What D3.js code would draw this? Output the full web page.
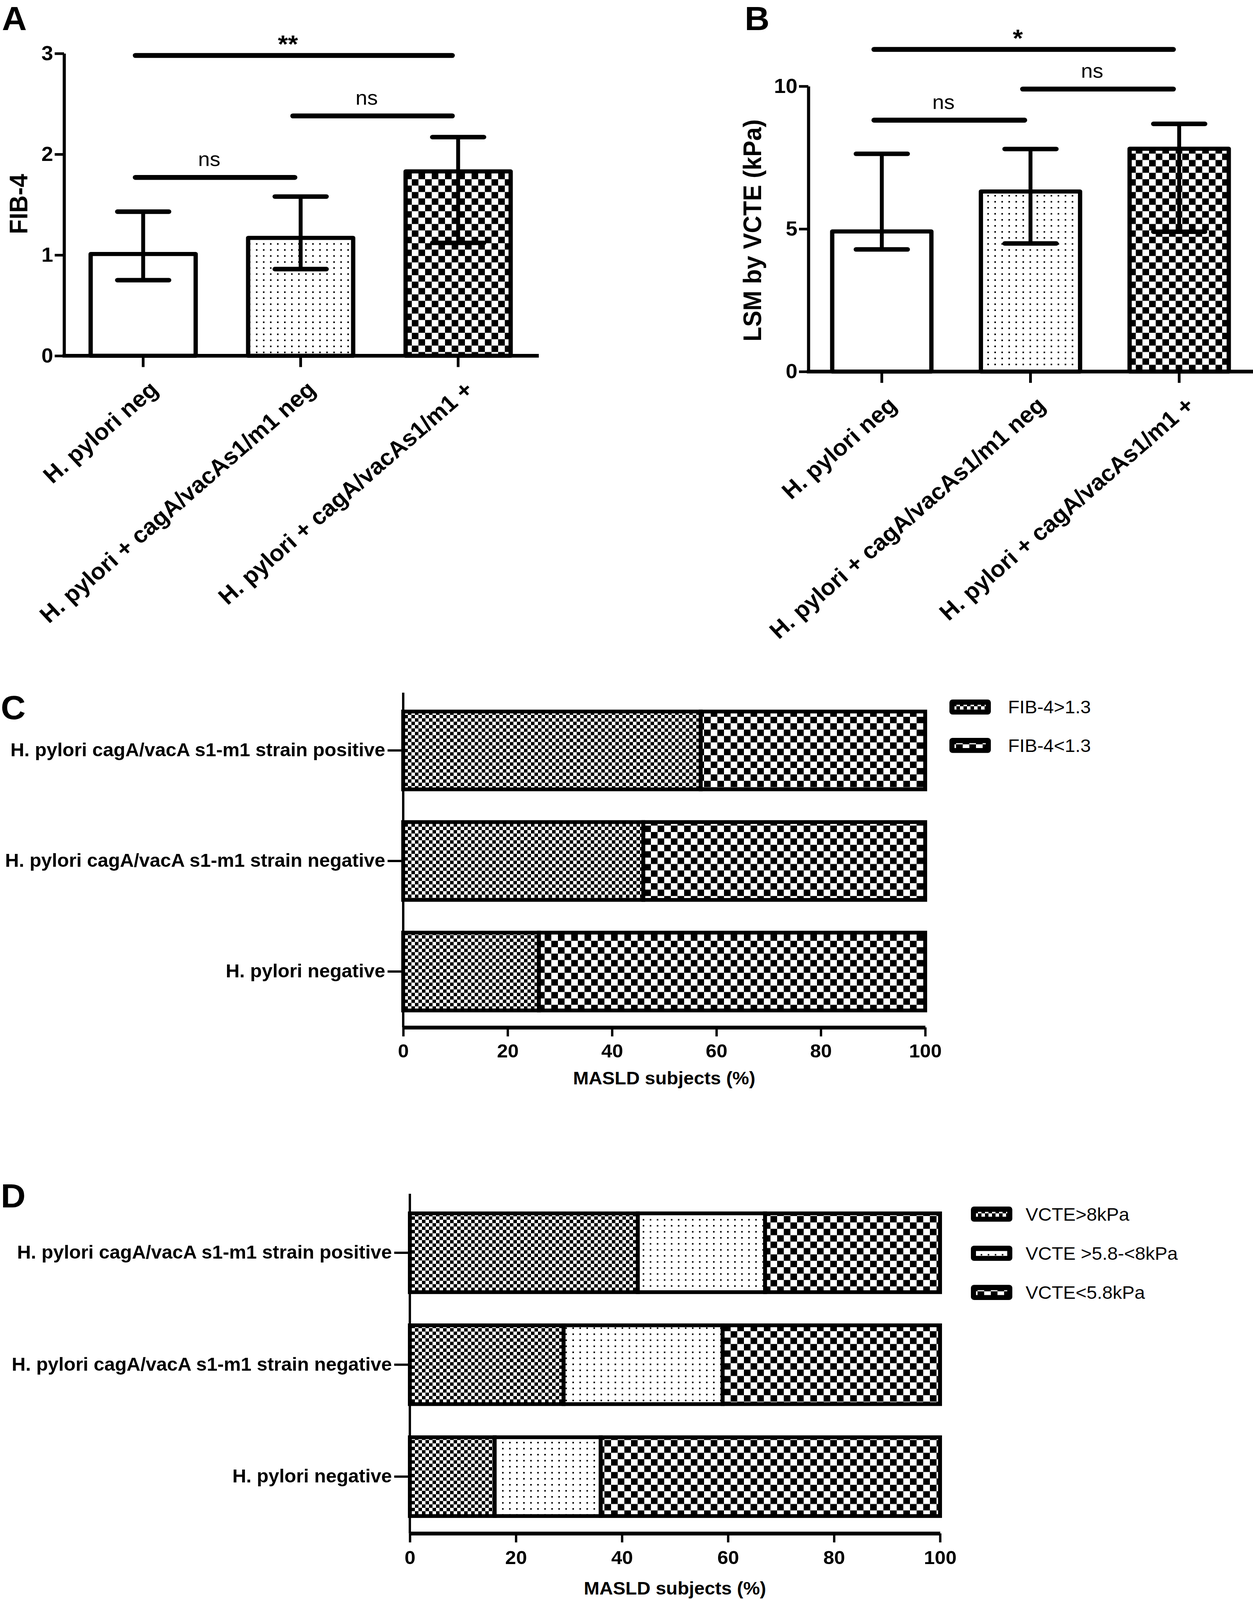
<!DOCTYPE html>
<html>
<head>
<meta charset="utf-8">
<script src="https://cdn.jsdelivr.net/npm/d3@7"></script>
<style>
html, body { margin: 0; padding: 0; background: #fff; width: 100%; height: 100%; overflow: hidden; }
svg { display: block; width: 100vw; height: 100vh; font-family: "Liberation Sans", Arial, Helvetica, sans-serif; }
</style>
</head>
<body>
<svg id="chart" viewBox="0 0 3207 4250" preserveAspectRatio="none"></svg>
<script>
// ---- data ----
const groupsAB = ["H. pylori neg", "H. pylori + cagA/vacAs1/m1 neg", "H. pylori + cagA/vacAs1/m1 +"];

const fib4Median = [1.01, 1.17, 1.83];
const fib4Low    = [0.75, 0.86, 1.12];
const fib4High   = [1.43, 1.58, 2.17];
const fib4Ticks  = [0, 1, 2, 3];
const fib4Comparisons = [
    { from: 0, to: 2, y: 2.98, label: "**" },
    { from: 1, to: 2, y: 2.38, label: "ns" },
    { from: 0, to: 1, y: 1.77, label: "ns" }
];

const lsmMedian = [4.91, 6.31, 7.81];
const lsmLow    = [4.28, 4.49, 4.90];
const lsmHigh   = [7.63, 7.80, 8.68];
const lsmTicks  = [0, 5, 10];
const lsmComparisons = [
    { from: 0, to: 2, y: 11.29, label: "*" },
    { from: 1, to: 2, y: 9.9,  label: "ns" },
    { from: 0, to: 1, y: 8.81, label: "ns" }
];

const groupsCD = [
    "H. pylori cagA/vacA s1-m1 strain positive",
    "H. pylori cagA/vacA s1-m1 strain negative",
    "H. pylori negative"
];
const fibAbove = [57, 46, 26];   // FIB-4>1.3
const fibBelow = [43, 54, 74];   // FIB-4<1.3
const fibLegend = ["FIB-4>1.3", "FIB-4<1.3"];

const vcteHigh = [43, 29, 16];   // VCTE>8kPa
const vcteMid  = [24, 30, 20];   // VCTE >5.8-<8kPa
const vcteLow  = [33, 41, 64];   // VCTE<5.8kPa
const vcteLegend = ["VCTE>8kPa", "VCTE >5.8-<8kPa", "VCTE<5.8kPa"];

const pctTicks = [0, 20, 40, 60, 80, 100];

// ---- patterns ----
const svg = d3.select("#chart");
const defs = svg.append("defs");

function checker(id, size) {
    const p = defs.append("pattern")
        .attr("id", id)
        .attr("patternUnits", "userSpaceOnUse")
        .attr("width", size * 2)
        .attr("height", size * 2);
    p.append("rect").attr("width", size * 2).attr("height", size * 2).attr("fill", "#fff");
    p.append("rect").attr("width", size).attr("height", size).attr("fill", "#000");
    p.append("rect").attr("x", size).attr("y", size).attr("width", size).attr("height", size).attr("fill", "#000");
}
checker("checkBig", 17);
checker("checkFine", 9);

const dots = defs.append("pattern")
    .attr("id", "dots")
    .attr("patternUnits", "userSpaceOnUse")
    .attr("width", 18)
    .attr("height", 16);
dots.append("rect").attr("width", 18).attr("height", 16).attr("fill", "#fff");
dots.append("rect").attr("x", 7).attr("y", 6).attr("width", 4).attr("height", 4).attr("fill", "#000");

const barFills = ["#fff", "url(#dots)", "url(#checkBig)"];

function panelLetter(txt, x, y) {
    svg.append("text")
        .attr("x", x).attr("y", y)
        .attr("font-size", 88)
        .attr("font-weight", "bold")
        .text(txt);
}

// ---- vertical bar panels (A, B) ----
function drawBarPanel(o) {
    const g = svg.append("g");
    const x = d3.scaleBand().domain(groupsAB).range(o.bandRange).paddingInner(0.333);
    const y = d3.scaleLinear().domain([0, o.yMax]).range([o.base, o.top]);
    const cx = i => x(groupsAB[i]) + x.bandwidth() / 2;

    // y axis
    const ya = g.append("g")
        .attr("transform", `translate(${o.axisX},0)`)
        .call(d3.axisLeft(y).tickValues(o.ticks).tickFormat(d3.format("d"))
            .tickSize(24).tickPadding(4).tickSizeOuter(0));
    ya.select(".domain").attr("stroke", "#000").attr("stroke-width", 8);
    ya.selectAll(".tick line").attr("stroke", "#000").attr("stroke-width", 7);
    ya.selectAll(".tick text")
        .attr("font-size", 54).attr("font-weight", "bold")
        .attr("font-family", "Liberation Sans, Arial, sans-serif").attr("fill", "#000");

    // bars
    g.selectAll(".bar")
        .data(o.median)
        .enter()
        .append("rect")
        .attr("class", "bar")
        .attr("x", (d, i) => x(groupsAB[i]))
        .attr("y", d => y(d))
        .attr("width", x.bandwidth())
        .attr("height", d => o.base - y(d))
        .attr("fill", (d, i) => barFills[i])
        .attr("stroke", "#000")
        .attr("stroke-width", 11)
        .attr("stroke-linejoin", "round");

    // error bars
    o.median.forEach((m, i) => {
        g.append("line")
            .attr("x1", cx(i)).attr("x2", cx(i))
            .attr("y1", y(o.low[i])).attr("y2", y(o.high[i]))
            .attr("stroke", "#000").attr("stroke-width", 10);
        [o.low[i], o.high[i]].forEach(v => {
            g.append("line")
                .attr("x1", cx(i) - 66).attr("x2", cx(i) + 66)
                .attr("y1", y(v)).attr("y2", y(v))
                .attr("stroke", "#000").attr("stroke-width", 12)
                .attr("stroke-linecap", "round");
        });
    });

    // x axis
    const xa = g.append("g")
        .attr("transform", `translate(0,${o.base})`)
        .call(d3.axisBottom(x).tickSize(30).tickSizeOuter(0));
    xa.select(".domain").remove();
    xa.selectAll(".tick line").attr("stroke", "#000").attr("stroke-width", 7);
    xa.selectAll(".tick text")
        .attr("font-size", 61).attr("font-weight", "bold")
        .attr("font-family", "Liberation Sans, Arial, sans-serif").attr("fill", "#000")
        .attr("text-anchor", "end")
        .attr("x", 0).attr("y", 0).attr("dy", null)
        .attr("transform", "translate(42,95) rotate(-42)");
    g.append("line")
        .attr("x1", o.axisX - 4).attr("x2", o.axisEnd)
        .attr("y1", o.base).attr("y2", o.base)
        .attr("stroke", "#000").attr("stroke-width", 10);

    // significance brackets
    o.comps.forEach(c => {
        const x1 = cx(c.from) - 20, x2 = cx(c.to) - 15, yy = y(c.y);
        g.append("line")
            .attr("x1", x1).attr("x2", x2)
            .attr("y1", yy).attr("y2", yy)
            .attr("stroke", "#000").attr("stroke-width", 13)
            .attr("stroke-linecap", "round");
        const star = c.label !== "ns";
        g.append("text")
            .attr("x", (x1 + x2) / 2 - 15)
            .attr("y", star ? yy - 8 : yy - 30)
            .attr("text-anchor", "middle")
            .attr("font-size", star ? 66 : 54)
            .attr("font-weight", star ? "bold" : "normal")
            .text(c.label);
    });

    // y label
    g.append("text")
        .attr("transform", `translate(${o.labelX},${o.labelY}) rotate(-90)`)
        .attr("text-anchor", "middle")
        .attr("font-size", 64)
        .attr("font-weight", "bold")
        .text(o.yLabel);
}

drawBarPanel({
    bandRange: [232, 1307], axisX: 164, axisEnd: 1379,
    base: 945, top: 142, yMax: 3, ticks: fib4Ticks,
    median: fib4Median, low: fib4Low, high: fib4High,
    comps: fib4Comparisons, yLabel: "FIB-4", labelX: 70, labelY: 542
});
drawBarPanel({
    bandRange: [2130, 3145], axisX: 2069, axisEnd: 3207,
    base: 987, top: 229, yMax: 10, ticks: lsmTicks,
    median: lsmMedian, low: lsmLow, high: lsmHigh,
    comps: lsmComparisons, yLabel: "LSM by VCTE (kPa)", labelX: 1948, labelY: 612
});

// ---- horizontal stacked panels (C, D) ----
function drawStackPanel(o) {
    const g = svg.append("g");
    const rows = groupsCD.map((name, i) => {
        const r = { name: name };
        o.keys.forEach((k, j) => { r[k] = o.series[j][i]; });
        return r;
    });
    const stacked = d3.stack().keys(o.keys)(rows);

    const x = d3.scaleLinear().domain([0, 100]).range(o.xRange);
    const y = d3.scaleBand().domain(groupsCD).range(o.yRange).paddingInner(0.296);

    stacked.forEach((layer, j) => {
        g.selectAll(".seg" + j)
            .data(layer)
            .enter()
            .append("rect")
            .attr("x", d => x(d[0]))
            .attr("y", d => y(d.data.name))
            .attr("width", d => x(d[1]) - x(d[0]))
            .attr("height", y.bandwidth())
            .attr("fill", o.fills[j])
            .attr("stroke", "#000")
            .attr("stroke-width", 10);
    });

    // y axis with category labels
    const ya = g.append("g")
        .attr("transform", `translate(${o.xRange[0]},0)`)
        .call(d3.axisLeft(y).tickSize(40).tickPadding(6).tickSizeOuter(0));
    ya.select(".domain").remove();
    ya.selectAll(".tick line").attr("stroke", "#000").attr("stroke-width", 6);
    ya.selectAll(".tick text")
        .attr("font-size", 49).attr("font-weight", "bold")
        .attr("font-family", "Liberation Sans, Arial, sans-serif").attr("fill", "#000");
    g.append("line")
        .attr("x1", o.xRange[0]).attr("x2", o.xRange[0])
        .attr("y1", o.axisTop).attr("y2", o.axisY)
        .attr("stroke", "#000").attr("stroke-width", 6);

    // x axis
    const xa = g.append("g")
        .attr("transform", `translate(0,${o.axisY})`)
        .call(d3.axisBottom(x).tickValues(pctTicks).tickSize(24).tickPadding(o.tickPad).tickSizeOuter(0));
    xa.select(".domain").attr("stroke", "#000").attr("stroke-width", 10);
    xa.selectAll(".tick line").attr("stroke", "#000").attr("stroke-width", 6);
    xa.selectAll(".tick text")
        .attr("font-size", 50).attr("font-weight", "bold")
        .attr("font-family", "Liberation Sans, Arial, sans-serif").attr("fill", "#000");

    g.append("text")
        .attr("x", (o.xRange[0] + o.xRange[1]) / 2)
        .attr("y", o.titleY)
        .attr("text-anchor", "middle")
        .attr("font-size", 48)
        .attr("font-weight", "bold")
        .text("MASLD subjects (%)");

    // legend
    const lg = g.selectAll(".legend")
        .data(o.legend)
        .enter()
        .append("g")
        .attr("transform", (d, i) => `translate(${o.legendX},${o.legendY + i * o.legendStep})`);
    lg.append("rect")
        .attr("width", 106).attr("height", 40).attr("rx", 8)
        .attr("fill", "#000");
    lg.append("rect")
        .attr("x", 13).attr("y", 14).attr("width", 80).attr("height", 13)
        .attr("fill", (d, i) => o.fills[i]);
    lg.append("text")
        .attr("x", o.legendTextDx).attr("y", 37)
        .attr("font-size", 48)
        .text(d => d);
}

drawStackPanel({
    keys: ["above", "below"], series: [fibAbove, fibBelow],
    fills: ["url(#checkFine)", "url(#checkBig)"],
    xRange: [1032, 2368], yRange: [1890, 2684],
    axisTop: 1840, axisY: 2729, tickPad: 20, titleY: 2880,
    legend: fibLegend, legendX: 2430, legendY: 1858, legendStep: 102, legendTextDx: 150
});
drawStackPanel({
    keys: ["high", "mid", "low"], series: [vcteHigh, vcteMid, vcteLow],
    fills: ["url(#checkFine)", "url(#dots)", "url(#checkBig)"],
    xRange: [1049, 2406], yRange: [3223, 4027],
    axisTop: 3171, axisY: 4073, tickPad: 22, titleY: 4236,
    legend: vcteLegend, legendX: 2485, legendY: 3205, legendStep: 104, legendTextDx: 140
});

panelLetter("A", 5, 80);
panelLetter("B", 1906, 80);
panelLetter("C", 2, 1910);
panelLetter("D", 2, 3207);
</script>
</body>
</html>
